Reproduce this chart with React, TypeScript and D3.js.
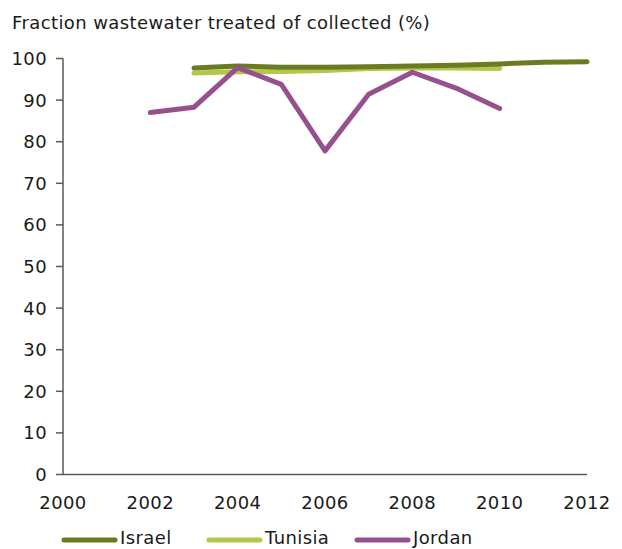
import React from "react";
import * as d3 from "d3";

const years = [2000, 2002, 2004, 2006, 2008, 2010, 2012];
const yTicks = [0, 10, 20, 30, 40, 50, 60, 70, 80, 90, 100];

const israelYears = [2003, 2004, 2005, 2006, 2007, 2008, 2009, 2010, 2011, 2012];
const israelValues = [97.7, 98.2, 97.9, 97.9, 98.0, 98.2, 98.4, 98.7, 99.1, 99.2];

const tunisiaYears = [2003, 2004, 2005, 2006, 2007, 2008, 2009, 2010];
const tunisiaValues = [96.5, 96.8, 96.9, 97.1, 97.6, 97.7, 97.7, 97.6];

const jordanYears = [2002, 2003, 2004, 2005, 2006, 2007, 2008, 2009, 2010];
const jordanValues = [87.0, 88.3, 97.8, 93.8, 77.8, 91.4, 96.7, 92.9, 88.0];

const title = "Fraction wastewater treated of collected (%)";

const series = [
  { name: "Tunisia", years: tunisiaYears, values: tunisiaValues, color: "#b3c74a" },
  { name: "Israel", years: israelYears, values: israelValues, color: "#6b7b22" },
  { name: "Jordan", years: jordanYears, values: jordanValues, color: "#97508e" },
];
const legendOrder = ["Israel", "Tunisia", "Jordan"];

export default function App() {
  const W = 622, H = 549;
  const x = d3.scaleLinear().domain([2000, 2012]).range([63, 587]);
  const y = d3.scaleLinear().domain([0, 100]).range([474.5, 58.5]);
  const line = d3.line<[number, number]>().x(d => x(d[0])).y(d => y(d[1]));
  const font = "'DejaVu Sans', Verdana, sans-serif";
  const fs = 18;
  const ls = 0.4;
  const legendX = [64, 209, 357];
  return (
    <svg width={W} height={H} style={{ position: "absolute", left: 0, top: 0 }} fontFamily={font}>
      <text x={12} y={29} fontSize={fs} letterSpacing={ls} fill="#1a1a1a">{title}</text>
      {yTicks.map(t => (
        <g key={t}>
          <line x1={56} x2={63} y1={y(t)} y2={y(t)} stroke="#595959" strokeWidth={1.5} />
          <text x={47} y={y(t)} dy="0.36em" textAnchor="end" fontSize={fs} letterSpacing={ls} fill="#1a1a1a">{t}</text>
        </g>
      ))}
      <line x1={63} x2={63} y1={y(100)} y2={y(0)} stroke="#595959" strokeWidth={1.5} />
      <line x1={63} x2={587} y1={y(0)} y2={y(0)} stroke="#595959" strokeWidth={1.5} />
      {years.map(t => (
        <text key={t} x={x(t)} y={509} textAnchor="middle" fontSize={fs} letterSpacing={ls} fill="#1a1a1a">{t}</text>
      ))}
      {series.map(s => (
        <path key={s.name}
          d={line(s.years.map((yr, i) => [yr, s.values[i]] as [number, number])) || ""}
          fill="none" stroke={s.color} strokeWidth={5} strokeLinecap="round" strokeLinejoin="round" />
      ))}
      {legendOrder.map((n, i) => {
        const s = series.find(d => d.name === n)!;
        const lx = legendX[i];
        return (
          <g key={n}>
            <line x1={lx} x2={lx + 51} y1={540} y2={540} stroke={s.color} strokeWidth={5} strokeLinecap="round" />
            <text x={lx + 56} y={544} fontSize={fs} letterSpacing={ls} fill="#1a1a1a">{n}</text>
          </g>
        );
      })}
    </svg>
  );
}
